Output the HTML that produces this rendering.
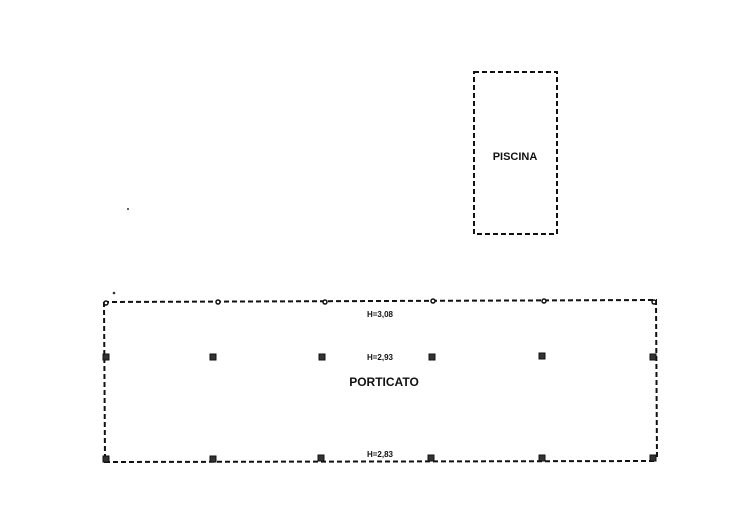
<!DOCTYPE html>
<html><head><meta charset="utf-8"><style>
html,body{margin:0;padding:0;background:#fff;width:736px;height:524px;overflow:hidden}
svg text{font-family:"Liberation Sans",sans-serif;font-weight:bold;fill:#111}
</style></head><body>
<svg width="736" height="524" viewBox="0 0 736 524" xmlns="http://www.w3.org/2000/svg">
<g fill="none" stroke="#111" stroke-width="2" stroke-dasharray="5,3">
<rect x="474" y="72" width="83" height="162"/>
<path d="M104 302 L656 300 L657 460"/>
<path d="M104 302 L105 462 L655 461"/>
</g>
<circle cx="128" cy="209" r="1" fill="#333"/>
<circle cx="114" cy="293" r="1.3" fill="#333"/>
<text x="515" y="160" font-size="11" text-anchor="middle">PISCINA</text>
<text x="384" y="386" font-size="12" text-anchor="middle">PORTICATO</text>
<text x="380" y="317" font-size="8" text-anchor="middle">H=3,08</text>
<text x="380" y="360" font-size="8" text-anchor="middle">H=2,93</text>
<text x="380" y="457" font-size="8" text-anchor="middle">H=2,83</text>
<g fill="#fff" stroke="#111" stroke-width="1.5">
<circle cx="106" cy="303" r="2"/><circle cx="218" cy="302" r="2"/><circle cx="325" cy="302" r="2"/>
<circle cx="433" cy="301" r="2"/><circle cx="544" cy="301" r="2"/><circle cx="654" cy="302" r="2"/>
</g>
<g fill="#333" stroke="#111" stroke-width="1">
<rect x="103" y="354" width="6" height="6"/><rect x="210" y="354" width="6" height="6"/>
<rect x="319" y="354" width="6" height="6"/><rect x="429" y="354" width="6" height="6"/>
<rect x="539" y="353" width="6" height="6"/><rect x="650" y="354" width="6" height="6"/>
<rect x="103" y="456" width="6" height="6"/><rect x="210" y="456" width="6" height="6"/>
<rect x="318" y="455" width="6" height="6"/><rect x="428" y="455" width="6" height="6"/>
<rect x="539" y="455" width="6" height="6"/><rect x="650" y="455" width="6" height="6"/>
</g>
</svg>
</body></html>
